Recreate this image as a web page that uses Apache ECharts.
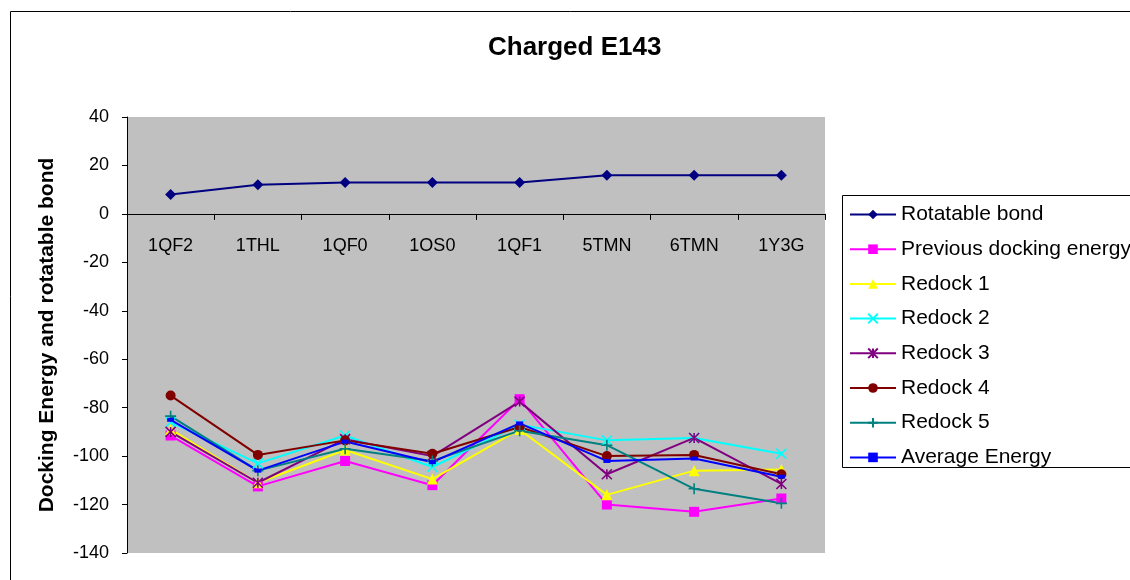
<!DOCTYPE html>
<html>
<head>
<meta charset="utf-8">
<script src="https://cdn.jsdelivr.net/npm/echarts@6/dist/echarts.min.js"></script>
<style>
  html, body { margin: 0; padding: 0; background: #fff; }
  #chart { width: 1130px; height: 580px; }
</style>
</head>
<body>
<div id="chart"></div>
<script>
// Ligand structures along the x axis
const categories = ['1QF2', '1THL', '1QF0', '1OS0', '1QF1', '5TMN', '6TMN', '1Y3G'];

// Number of rotatable bonds per ligand
const rotatableBond = [8, 12, 13, 13, 13, 16, 16, 16];

// Docking energies
const previousDocking = [-91.5, -112.5, -102, -112, -76.5, -120, -123, -117.5];
const redock1 = [-89, -111, -97.5, -109.5, -89, -116, -106, -105.5];
const redock2 = [-86, -103, -91.5, -104.5, -87, -93.5, -92.5, -99];
const redock3 = [-90, -111, -93, -100, -77.5, -107.5, -92.5, -111.5];
const redock4 = [-75, -99.5, -93.5, -99, -88, -100, -99.5, -107.5];
const redock5 = [-83.5, -106, -97, -102, -89.5, -95.5, -113.5, -119.5];
const averageEnergy = [-85, -106, -94, -102.5, -86.5, -102, -101, -108.5];

// Y axis range
const yMin = -140;
const yMax = 40;
const yStep = 20;

const FONT = "'Liberation Sans', Arial, sans-serif";

// Plot area placement
const GRID = { left: 127, right: 305, top: 117, bottom: 27 };
const plotHeight = 580 - GRID.top - GRID.bottom;
// Lift the category axis from the bottom edge up to the zero line
const zeroOffset = -plotHeight * (0 - yMin) / (yMax - yMin);

// Marker shapes drawn as strokes
const CROSS_X = 'path://M0,0L10,10M10,0L0,10';
const STAR = 'path://M0,0L10,10M10,0L0,10M5,0L5,10';
const PLUS = 'path://M5,0L5,10M0,5L10,5';

function lineSeries(name, data, color, symbol, size, stroked) {
  return {
    name: name,
    type: 'line',
    data: data,
    symbol: symbol,
    symbolSize: size,
    showSymbol: true,
    lineStyle: { color: color, width: 2 },
    itemStyle: stroked
      ? { color: color, borderColor: color, borderWidth: 1.6 }
      : { color: color, borderWidth: 0 },
    emphasis: { disabled: true }
  };
}

const chart = echarts.init(document.getElementById('chart'), null, { renderer: 'canvas' });

chart.setOption({
  animation: false,
  backgroundColor: '#ffffff',
  textStyle: { fontFamily: FONT },
  title: {
    text: 'Charged E143',
    left: 488,
    top: 35,
    padding: 0,
    textStyle: { fontFamily: FONT, fontSize: 26, fontWeight: 'bold', color: '#000' }
  },
  graphic: [
    {
      type: 'rect',
      shape: { x: 10.5, y: 11.5, width: 2000, height: 2000 },
      style: { fill: 'none', stroke: '#000', lineWidth: 1 },
      silent: true
    },
    {
      type: 'rect',
      shape: { x: 842.5, y: 195.5, width: 400, height: 272 },
      style: { fill: 'none', stroke: '#000', lineWidth: 1 },
      silent: true
    }
  ],
  legend: {
    orient: 'vertical',
    left: 849,
    top: 204,
    padding: 0,
    itemWidth: 46,
    itemHeight: 12,
    itemGap: 13.7,
    selectedMode: false,
    textStyle: { fontFamily: FONT, fontSize: 21, color: '#000' }
  },
  grid: {
    left: GRID.left,
    right: GRID.right,
    top: GRID.top,
    bottom: GRID.bottom,
    outerBoundsMode: 'none',
    containLabel: false,
    show: true,
    backgroundColor: '#c0c0c0',
    borderWidth: 0
  },
  xAxis: {
    type: 'category',
    data: categories,
    boundaryGap: true,
    position: 'bottom',
    offset: zeroOffset,
    axisLine: { show: true, onZero: false, lineStyle: { color: '#000', width: 1 } },
    axisTick: { show: true, length: 6, lineStyle: { color: '#000' } },
    axisLabel: { color: '#000', fontSize: 18, fontFamily: FONT, margin: 23 },
    splitLine: { show: false }
  },
  yAxis: {
    type: 'value',
    min: yMin,
    max: yMax,
    interval: yStep,
    name: 'Docking Energy and rotatable bond',
    nameLocation: 'middle',
    nameGap: 69,
    nameTextStyle: { fontFamily: FONT, fontSize: 21, fontWeight: 'bold', color: '#000' },
    axisLine: { show: true, lineStyle: { color: '#000', width: 1 } },
    axisTick: { show: true, length: 5, lineStyle: { color: '#000' } },
    axisLabel: { color: '#000', fontSize: 18, fontFamily: FONT, margin: 18 },
    splitLine: { show: false }
  },
  series: [
    lineSeries('Rotatable bond', rotatableBond, '#000080', 'diamond', 11, false),
    lineSeries('Previous docking energy', previousDocking, '#ff00ff', 'rect', 10, false),
    lineSeries('Redock 1', redock1, '#ffff00', 'triangle', 11, false),
    lineSeries('Redock 2', redock2, '#00ffff', CROSS_X, 10, true),
    lineSeries('Redock 3', redock3, '#800080', STAR, 10, true),
    lineSeries('Redock 4', redock4, '#800000', 'circle', 10, false),
    lineSeries('Redock 5', redock5, '#008080', PLUS, 11, true),
    lineSeries('Average Energy', averageEnergy, '#0000ff', 'rect', [7, 4], false)
  ]
});
</script>
</body>
</html>
